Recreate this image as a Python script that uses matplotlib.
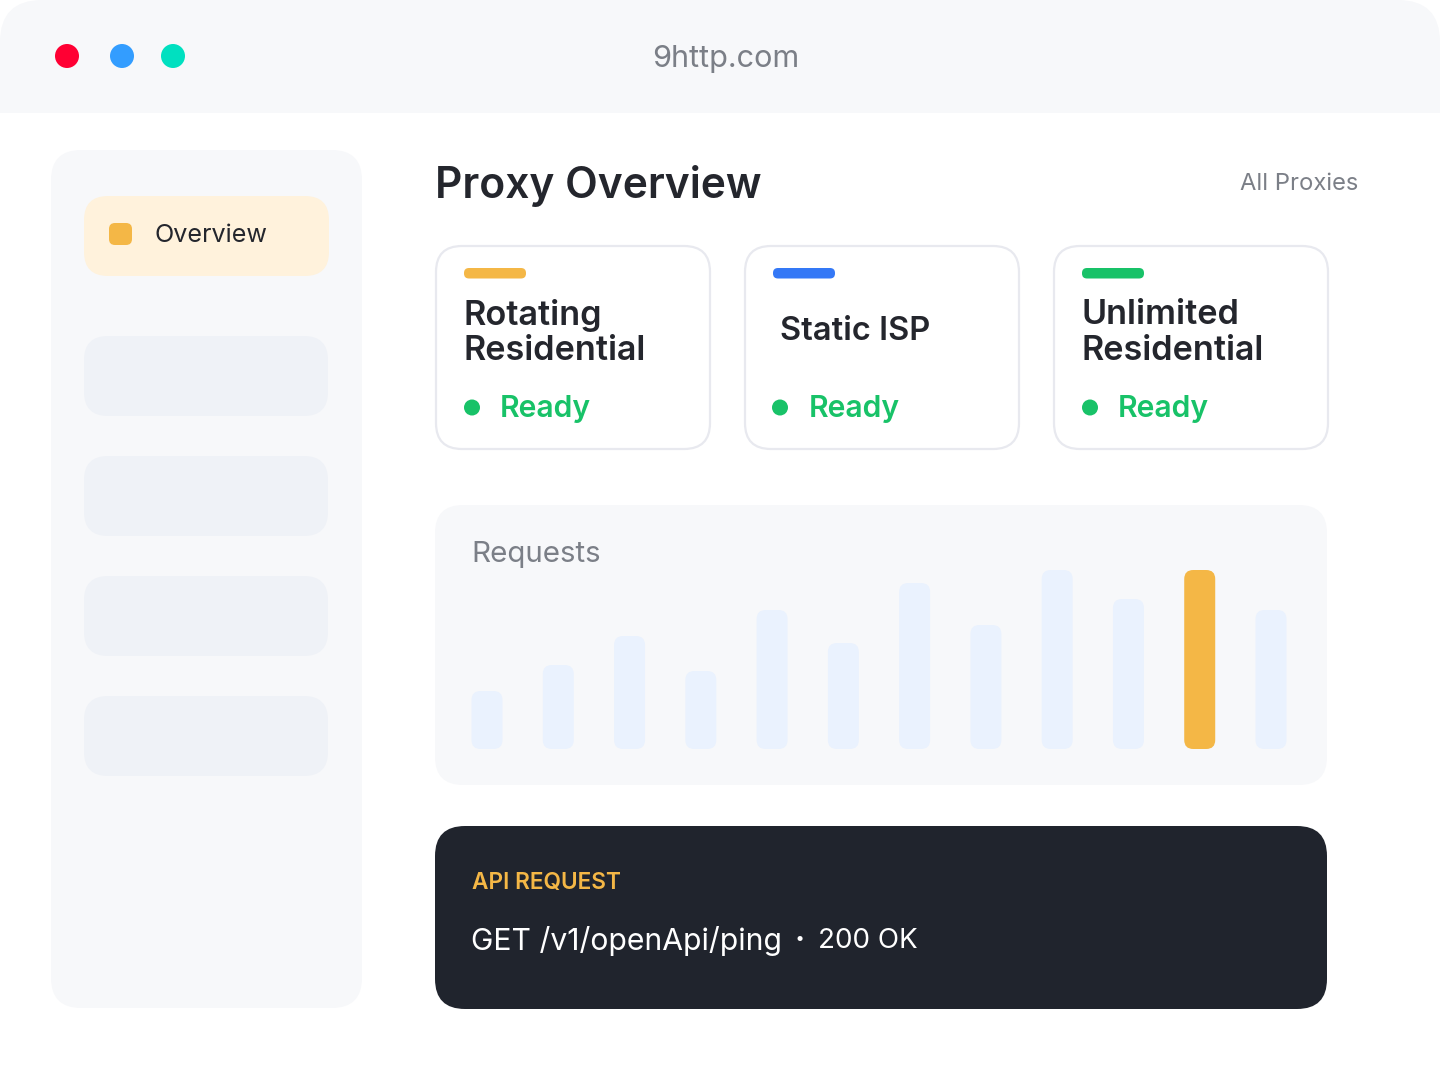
import matplotlib
matplotlib.use("Agg")
import matplotlib.pyplot as plt
from matplotlib.patches import FancyBboxPatch, Rectangle, Circle

plt.rcParams['font.family'] = ['Inter', 'DejaVu Sans']

# bar heights of the requests chart
request_values = [58, 84, 113, 78, 139, 106, 166, 124, 179, 150, 179, 139]
highlight_bar = 10

card_titles = [["Rotating", "Residential"], ["Static ISP"], ["Unlimited", "Residential"]]
card_colors = ['#F4B746', '#3478F6', '#18C268']
card_status = ['Ready', 'Ready', 'Ready']

dot_colors = ['#FF0033', '#339DFF', '#00E0C0']
menu_rows = [336, 456, 576, 696]

DARK = '#24262D'
GREY = '#7B7F87'
PANEL = '#F7F8FA'


def rounded(ax, x, y, w, h, r, color, edge='none', lw=0, zorder=2):
    box = FancyBboxPatch((x + r, y + r), w - 2 * r, h - 2 * r,
                         boxstyle="round,pad=%f,rounding_size=%f" % (r, r),
                         facecolor=color, edgecolor=edge, linewidth=lw, zorder=zorder)
    ax.add_patch(box)


def main():
    fig = plt.figure(figsize=(14.4, 10.79), dpi=100)
    ax = fig.add_axes([0, 0, 1, 1])
    ax.set_xlim(0, 1440)
    ax.set_ylim(1079, 0)
    ax.axis('off')

    # window header
    rounded(ax, 0, 0, 1440, 200, 42, PANEL, zorder=1)
    ax.add_patch(Rectangle((0, 113), 1440, 966, facecolor='white', zorder=1.5))
    for cx, c in zip([67, 122, 173], dot_colors):
        ax.add_patch(Circle((cx, 56), 12, facecolor=c, zorder=3))
    ax.text(726, 59, "9http.com", fontsize=22.1, color=GREY, ha='center', va='center', zorder=3)

    # sidebar
    rounded(ax, 51, 150, 311, 858, 30, PANEL)
    rounded(ax, 84, 196, 245, 80, 24, '#FFF2DC', zorder=3)
    rounded(ax, 109, 223, 23, 22, 6, '#F4B746', zorder=4)
    ax.text(155, 235.5, "Overview", fontsize=18.1, color=DARK, ha='left', va='center', zorder=4)
    for y in menu_rows:
        rounded(ax, 84, y, 244, 80, 24, '#EFF2F7', zorder=3)

    # heading
    ax.text(435, 186, "Proxy Overview", fontsize=30.6, fontweight='semibold', color=DARK,
            ha='left', va='center', zorder=3)
    ax.text(1358, 184.5, "All Proxies", fontsize=17.1, color=GREY, ha='right', va='center', zorder=3)

    # cards
    for i, x in enumerate([436, 745, 1054]):
        nudge = -1 if i == 1 else 0
        rounded(ax, x, 246, 274, 203, 26, 'white', edge='#E8E9EF', lw=1.6, zorder=3)
        rounded(ax, x + 28, 268, 62, 10.5, 5, card_colors[i], zorder=4)
        lines = card_titles[i]
        if len(lines) == 2:
            ax.text(x + 28, 315, lines[0], fontsize=24.7, fontweight='semibold', color=DARK,
                    ha='left', va='center', zorder=4)
            ax.text(x + 28, 351, lines[1], fontsize=24.6, fontweight='semibold', color=DARK,
                    ha='left', va='center', zorder=4)
        else:
            ax.text(x + 34.5, 331.5, lines[0], fontsize=23.5, fontweight='semibold', color=DARK,
                    ha='left', va='center', zorder=4)
        ax.add_patch(Circle((x + 36 + nudge, 407.5), 8, facecolor='#18C268', zorder=4))
        ax.text(x + 64, 409, card_status[i], fontsize=21.7, fontweight='semibold', color='#18C268',
                ha='left', va='center', zorder=4)

    # requests panel
    rounded(ax, 435, 505, 892, 280, 28, PANEL)
    ax.text(471, 554.5, "Requests", fontsize=21.3, color=GREY, ha='left', va='center', zorder=3)

    # bars live in their own axes, one unit is one pixel
    x0, x1, top, base = 471, 1288, 570, 749
    bar_ax = fig.add_axes([x0 / 1440, 1 - base / 1079, (x1 - x0) / 1440, (base - top) / 1079])
    bar_ax.set_xlim(x0, x1)
    bar_ax.set_ylim(0, base - top)
    bar_ax.axis('off')
    step = (1271 - 487) / (len(request_values) - 1)
    for i, v in enumerate(request_values):
        cx = 487 + i * step
        c = '#F4B746' if i == highlight_bar else '#EAF2FE'
        rounded(bar_ax, cx - 15.5, 0, 31, v, 9, c)

    # api box
    rounded(ax, 435, 826, 892, 183, 30, '#20242D')
    ax.text(471.5, 883, "API REQUEST", fontsize=16.3, fontweight='semibold', color='#F4B746',
            ha='left', va='center', zorder=3)
    ax.text(471, 941, "GET /v1/openApi/ping", fontsize=21.7, color='white',
            ha='left', va='center', zorder=3)
    ax.text(800, 941, "·", fontsize=21.7, fontweight='bold', color='white', ha='center', va='center', zorder=3)
    ax.text(817.5, 941, "200 OK", fontsize=20, color='white', ha='left', va='center', zorder=3)

    fig.savefig("out.png", dpi=100, facecolor='white')


if __name__ == "__main__":
    main()
